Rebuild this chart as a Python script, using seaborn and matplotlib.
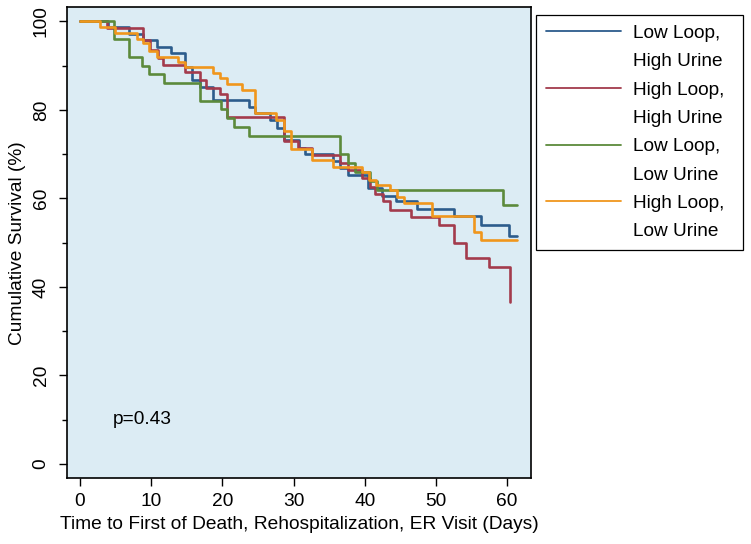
import matplotlib
matplotlib.use("Agg")
import matplotlib.pyplot as plt
import seaborn as sns
import pandas as pd
from matplotlib.lines import Line2D

# ---- data ----
groups = ["Low Loop, High Urine", "High Loop, High Urine",
          "Low Loop, Low Urine", "High Loop, Low Urine"]
colors = ["#2c5c8c", "#a33b4c", "#5c8a3b", "#f0961c"]

blue_t = [0, 3.9, 6.9, 8.9, 10.8, 12.8, 14.8, 15.8, 16.8, 18.7, 23.7, 24.6, 26.7,
          27.7, 28.7, 30.7, 31.6, 35.6, 36.6, 37.6, 40.5, 42.5, 44.4, 47.4, 52.5,
          56.3, 60.3, 61.4]
blue_s = [100, 98.6, 97.2, 95.8, 94.3, 92.8, 89.7, 86.7, 85.2, 82.2, 80.7, 79.3, 77.8,
          76.0, 73.1, 71.4, 70.0, 68.5, 66.8, 65.2, 62.3, 60.6, 59.3, 57.5, 56.0,
          54.0, 51.5, 51.5]

red_t = [0, 3.8, 8.8, 9.8, 10.9, 11.7, 14.8, 16.8, 17.7, 19.7, 20.7, 28.6, 30.6,
         32.6, 36.6, 37.6, 39.6, 40.7, 41.5, 42.6, 43.5, 46.5, 50.4, 52.5, 54.3,
         57.4, 60.4]
red_s = [100, 98.4, 95.8, 93.5, 91.6, 90.1, 88.6, 86.7, 84.9, 83.5, 78.3, 73.0, 71.4,
         69.9, 67.9, 66.4, 64.5, 62.6, 61.0, 59.3, 57.4, 55.7, 54.0, 50.0, 46.6,
         44.4, 36.7]

green_t = [0, 4.8, 6.9, 8.75, 9.7, 11.8, 16.8, 19.8, 20.7, 21.7, 23.7, 36.6, 37.6,
           38.6, 40.7, 41.7, 59.4, 61.4]
green_s = [100, 95.9, 91.9, 90.0, 88.1, 86.0, 82.1, 80.1, 78.1, 76.2, 74.1, 70.1, 68.1,
           66.0, 64.0, 61.9, 58.6, 58.6]

orange_t = [0, 2.8, 4.9, 8.0, 8.9, 9.7, 10.8, 13.8, 14.8, 18.7, 19.7, 20.7, 22.7,
            24.6, 27.6, 28.6, 29.6, 32.6, 35.6, 39.6, 40.6, 41.6, 43.6, 44.6, 45.5,
            49.4, 55.4, 56.3, 61.4]
orange_s = [100, 98.6, 97.3, 95.9, 95.0, 93.3, 91.9, 90.9, 89.6, 88.3, 87.3, 85.8, 84.5,
            79.2, 77.8, 75.2, 71.2, 68.6, 67.2, 66.0, 64.2, 63.1, 61.9, 60.3, 58.9,
            56.0, 52.5, 50.7, 50.7]

x_ticks = [0, 10, 20, 30, 40, 50, 60]
y_ticks = [0, 20, 40, 60, 80, 100]
y_minor = [10, 30, 50, 70, 90]
p_text = "p=0.43"

series_t = [blue_t, red_t, green_t, orange_t]
series_s = [blue_s, red_s, green_s, orange_s]

df = pd.concat([pd.DataFrame({"t": t, "s": s, "group": g})
                for t, s, g in zip(series_t, series_s, groups)], ignore_index=True)

# ---- style ----
sns.set_style("ticks")
plt.rcParams["font.family"] = ["Liberation Sans", "DejaVu Sans"]
plt.rcParams["text.color"] = "black"
plt.rcParams["axes.labelcolor"] = "black"
plt.rcParams["xtick.color"] = "black"
plt.rcParams["ytick.color"] = "black"
plt.rcParams["xtick.labelcolor"] = "black"
plt.rcParams["ytick.labelcolor"] = "black"
FS = 13.8

fig = plt.figure(figsize=(7.51, 5.44), dpi=100)
W, H = 751, 544
ax = fig.add_axes([67 / W, 1 - 478 / H, (531 - 67) / W, (478 - 7.3) / H])
ax.set_facecolor("#dcecf4")

sns.lineplot(data=df, x="t", y="s", hue="group", hue_order=groups, palette=colors,
             estimator=None, sort=False, drawstyle="steps-post", lw=1.9,
             legend=False, ax=ax)

ax.set_xlim(-1.83, 63.37)
ax.set_ylim(-3.16, 103.16)
ax.set_xticks(x_ticks)
ax.set_yticks(y_ticks)
ax.set_yticks(y_minor, minor=True)
ax.tick_params(axis="both", which="major", direction="out", length=5.5, width=1.0,
               labelsize=FS, color="black", labelcolor="black")
ax.tick_params(axis="y", which="minor", direction="out", length=3.5, width=1.0,
               color="black")
ax.tick_params(axis="y", which="major", labelrotation=90, pad=7)
ax.tick_params(axis="x", which="major", pad=5.5)
for lab in ax.get_yticklabels():
    lab.set_va("center")

for sp in ax.spines.values():
    sp.set_visible(True)
    sp.set_color("black")
    sp.set_linewidth(1.2)

ax.set_xlabel("Time to First of Death, Rehospitalization, ER Visit (Days)",
              fontsize=FS, color="black")
ax.set_ylabel("Cumulative Survival (%)", fontsize=FS, color="black")
ax.xaxis.set_label_coords(0.5, (478 - 516) / (478 - 7.3))
ax.yaxis.set_label_coords((26 - 67) / (531 - 67), 0.5)

ax.text(4.6, 10, p_text, ha="left", va="center", fontsize=FS, color="black")

# ---- legend ----
handles, labels = [], []
for g, c in zip(groups, colors):
    first, second = g.split(", ")
    handles.append(Line2D([], [], color=c, lw=1.3))
    labels.append(first + ",")
    handles.append(Line2D([], [], color="none", lw=1.3))
    labels.append(second)

leg = fig.legend(handles, labels, loc="upper left",
                 bbox_to_anchor=(536 / W, 1 - 249 / H, 207 / W, 234 / H),
                 mode="expand", fontsize=13.7, frameon=True, fancybox=False,
                 shadow=False, borderpad=0.5, borderaxespad=0, labelspacing=0.58,
                 handlelength=3.95, handletextpad=0.67, labelcolor="black")
leg.get_frame().set_edgecolor("black")
leg.get_frame().set_linewidth(0.9)
leg.get_frame().set_facecolor("white")
leg.get_frame().set_alpha(1)

fig.savefig("out.png", dpi=100, facecolor="white")
